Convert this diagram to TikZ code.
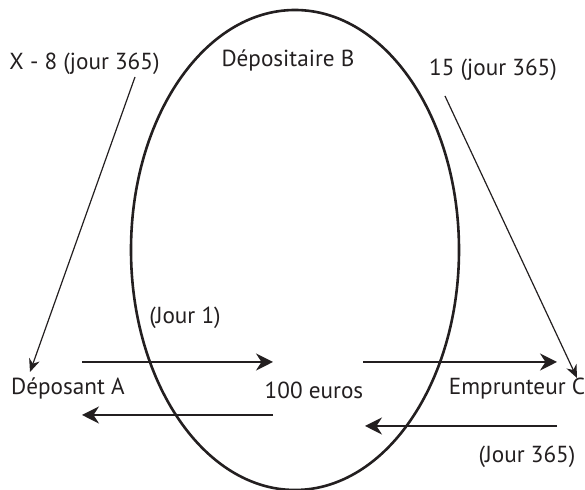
\documentclass[tikz,border=0pt]{standalone}
\usepackage{fontspec}
\setmainfont{PT Sans}
\usetikzlibrary{arrows.meta,positioning,shapes.geometric}
\definecolor{InkBlack}{RGB}{35,31,32}
\tikzset{
  txtnode/.style={font=\fontsize{11.6}{13.9}\selectfont,text=InkBlack,inner sep=0pt,anchor=base},
  bankshape/.style={ellipse,draw=InkBlack,line width=1.3pt,minimum width=164pt,minimum height=240pt,inner sep=0pt},
  flowarrow/.style={-{Stealth[length=8.5pt,width=8.5pt]},line width=1pt,draw=InkBlack},
  notearrow/.style={-{Stealth[length=6.5pt,width=5.5pt]},line width=0.6pt,draw=InkBlack}
}
\begin{document}
\begin{tikzpicture}[x=0.5pt,y=-0.5pt]
\useasboundingbox (0,0) rectangle (585,490);
\node[bankshape] (bank) at (295,250) {};
\node[txtnode] (bankname) at (288,67) {Dépositaire B};

\node[txtnode] (interetA) at (84.5,70) {X - 8 (jour 365)};
\node[txtnode] (interetC) at (493,76) {15 (jour 365)};
\node[txtnode] (jourun) at (185,324) {(Jour 1)};
\node[txtnode] (deposant) at (68,395) {Déposant A};
\node[txtnode] (montant) at (314,399) {100 euros};
\node[txtnode] (emprunteur) at (517,395) {Emprunteur C};
\node[txtnode] (jourfin) at (527,463) {(Jour 365)};

% ends of the flows
\coordinate (depA) at (82,362);
\coordinate (inB) at (273,362);
\coordinate (outB) at (363,362);
\coordinate (empC) at (557,362);
\coordinate (retA) at (82,415);
\coordinate (retB) at (273,415);
\coordinate (retBin) at (365,426);
\coordinate (retC) at (557,426);
\coordinate (noteA) at (135,77);
\coordinate (tipA) at (30,372);
\coordinate (noteC) at (445,96);
\coordinate (tipC) at (577,378);

\draw[flowarrow] (depA) -- (inB);
\draw[flowarrow] (outB) -- (empC);
\draw[flowarrow] (retB) -- (retA);
\draw[flowarrow] (retC) -- (retBin);

\draw[notearrow] (noteA) -- (tipA);
\draw[notearrow] (noteC) -- (tipC);
\end{tikzpicture}
\end{document}
